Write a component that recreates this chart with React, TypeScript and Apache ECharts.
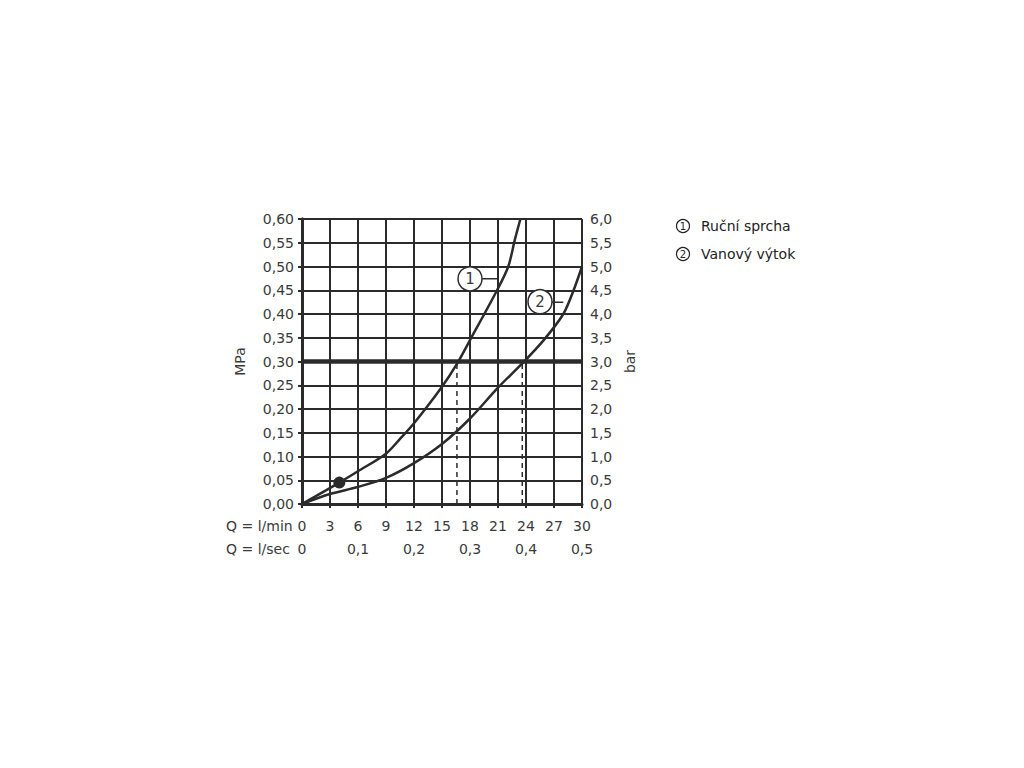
import React, { useEffect, useRef } from "react";
import * as echarts from "echarts";

const curve1Flow = [0, 4, 6, 9, 10.5, 12, 15, 16.6, 18, 20.9, 22.1, 22.8, 23.4];
const curve1Pressure = [0, 0.045, 0.069, 0.106, 0.137, 0.17, 0.247, 0.295, 0.345, 0.45, 0.5, 0.556, 0.6];
const curve2Flow = [0, 3, 6, 9, 12, 15.1, 18, 21, 23.6, 25.9, 28, 29.1, 30];
const curve2Pressure = [0, 0.021, 0.036, 0.055, 0.086, 0.128, 0.18, 0.245, 0.296, 0.345, 0.4, 0.45, 0.5];
const markerPoint = [4, 0.045];
const refPressure = 0.3;
const dropFlows = [16.6, 23.6];
const callout1 = { label: "1", at: [18.0, 0.474], leader: [[19.3, 0.474], [21.0, 0.474]] };
const callout2 = { label: "2", at: [25.5, 0.426], leader: [[26.8, 0.425], [28.0, 0.425]] };
const legendNumbers = ["1", "2"];
const legendItems = ["Ruční sprcha", "Vanový výtok"];
const xTitleMin = "Q = l/min";
const xTitleSec = "Q = l/sec";

const FONT = "'DejaVu Sans', 'Open Sans', sans-serif";
const INK = "#2b2b2b";
const TXT = "#3a3a3a";

export default function App() {
  const ref = useRef<HTMLDivElement>(null);
  useEffect(() => {
    const chart = echarts.init(ref.current!, null, { renderer: "svg" });
    const lineBase = { type: "line", showSymbol: false, symbol: "none", silent: true, xAxisIndex: 0, yAxisIndex: 0 };
    const legendGraphics: any[] = [];
    legendItems.forEach((t, i) => {
      const cy = 226 + i * 28;
      legendGraphics.push(
        { type: "circle", shape: { cx: 683, cy, r: 6.5 }, style: { fill: "#fff", stroke: "#222", lineWidth: 1.2 } },
        {
          type: "text", x: 683, y: cy + 0.5,
          style: { text: legendNumbers[i], fill: "#222", font: `10px ${FONT}`, align: "center", verticalAlign: "middle" },
        },
        {
          type: "text", x: 701, y: cy,
          style: { text: t, fill: "#222", font: `14px ${FONT}`, align: "left", verticalAlign: "middle" },
        }
      );
    });
    chart.setOption({
      animation: false,
      backgroundColor: "#fff",
      textStyle: { fontFamily: FONT },
      grid: { left: 302, top: 219, right: 442, bottom: 264, containLabel: false },
      xAxis: [
        {
          type: "value", min: 0, max: 30, interval: 3, position: "bottom",
          axisLine: { show: true, lineStyle: { color: INK, width: 3 } },
          axisTick: { show: true, length: 4, lineStyle: { color: INK, width: 2 } },
          axisLabel: { color: TXT, fontSize: 14, margin: 15, fontFamily: FONT },
          splitLine: { show: true, lineStyle: { color: INK, width: 2 } },
        },
        {
          type: "value", min: 0, max: 0.5, interval: 0.1, position: "bottom", offset: 23,
          axisLine: { show: false }, axisTick: { show: false }, splitLine: { show: false },
          axisLabel: {
            color: TXT, fontSize: 14, margin: 15, fontFamily: FONT,
            formatter: (v: number) => (v === 0 ? "0" : v.toFixed(1).replace(".", ",")),
          },
        },
      ],
      yAxis: [
        {
          type: "value", min: 0, max: 0.6, interval: 0.05, position: "left",
          name: "MPa", nameLocation: "middle", nameRotate: 90, nameGap: 55,
          nameTextStyle: { color: TXT, fontSize: 14, fontFamily: FONT },
          axisLine: { show: true, lineStyle: { color: INK, width: 3 } },
          axisTick: { show: true, length: 4, lineStyle: { color: INK, width: 2 } },
          axisLabel: {
            color: TXT, fontSize: 14, margin: 8, fontFamily: FONT,
            formatter: (v: number) => v.toFixed(2).replace(".", ","),
          },
          splitLine: { show: true, lineStyle: { color: INK, width: 2 } },
        },
        {
          type: "value", min: 0, max: 6, interval: 0.5, position: "right",
          name: "bar", nameLocation: "middle", nameRotate: 90, nameGap: 41,
          nameTextStyle: { color: TXT, fontSize: 14, fontFamily: FONT },
          axisLine: { show: true, lineStyle: { color: INK, width: 3 } },
          axisTick: { show: true, length: 4, lineStyle: { color: INK, width: 2 } },
          axisLabel: {
            color: TXT, fontSize: 14, margin: 8, fontFamily: FONT,
            formatter: (v: number) => v.toFixed(1).replace(".", ","),
          },
          splitLine: { show: false },
        },
      ],
      graphic: [
        { type: "text", left: 226, top: 519, style: { text: xTitleMin, fill: TXT, font: `14px ${FONT}` } },
        { type: "text", left: 226, top: 542, style: { text: xTitleSec, fill: TXT, font: `14px ${FONT}` } },
        ...legendGraphics,
      ],
      series: [
        {
          ...lineBase, data: [[0, refPressure], [30, refPressure]],
          lineStyle: { color: INK, width: 4.5 }, z: 3,
        },
        ...dropFlows.map((f) => ({
          ...lineBase, data: [[f, 0], [f, refPressure]],
          lineStyle: { color: INK, width: 1.5, type: [5, 4] }, z: 3,
        })),
        {
          ...lineBase, data: curve1Flow.map((x, i) => [x, curve1Pressure[i]]),
          smooth: 0.3, lineStyle: { color: INK, width: 2.5 }, z: 4,
        },
        {
          ...lineBase, data: curve2Flow.map((x, i) => [x, curve2Pressure[i]]),
          smooth: 0.3, lineStyle: { color: INK, width: 2.5 }, z: 4,
        },
        ...[callout1, callout2].map((c) => ({
          ...lineBase, data: c.leader, lineStyle: { color: INK, width: 1.5 }, z: 4,
        })),
        {
          type: "scatter", silent: true, z: 5,
          data: [callout1, callout2].map((c) => ({ value: c.at, name: c.label })),
          symbol: "circle", symbolSize: 24,
          itemStyle: { color: "#fff", borderColor: INK, borderWidth: 1.5, opacity: 1 },
          label: { show: true, position: "inside", formatter: (p: any) => p.name, color: TXT, fontSize: 15, fontFamily: FONT },
        },
        {
          type: "scatter", silent: true, z: 6, data: [markerPoint],
          symbol: "circle", symbolSize: 12, itemStyle: { color: INK, opacity: 1 },
        },
      ],
    });
    return () => chart.dispose();
  }, []);
  return <div ref={ref} style={{ position: "fixed", left: 0, top: 0, width: 1024, height: 768, background: "#fff" }} />;
}
